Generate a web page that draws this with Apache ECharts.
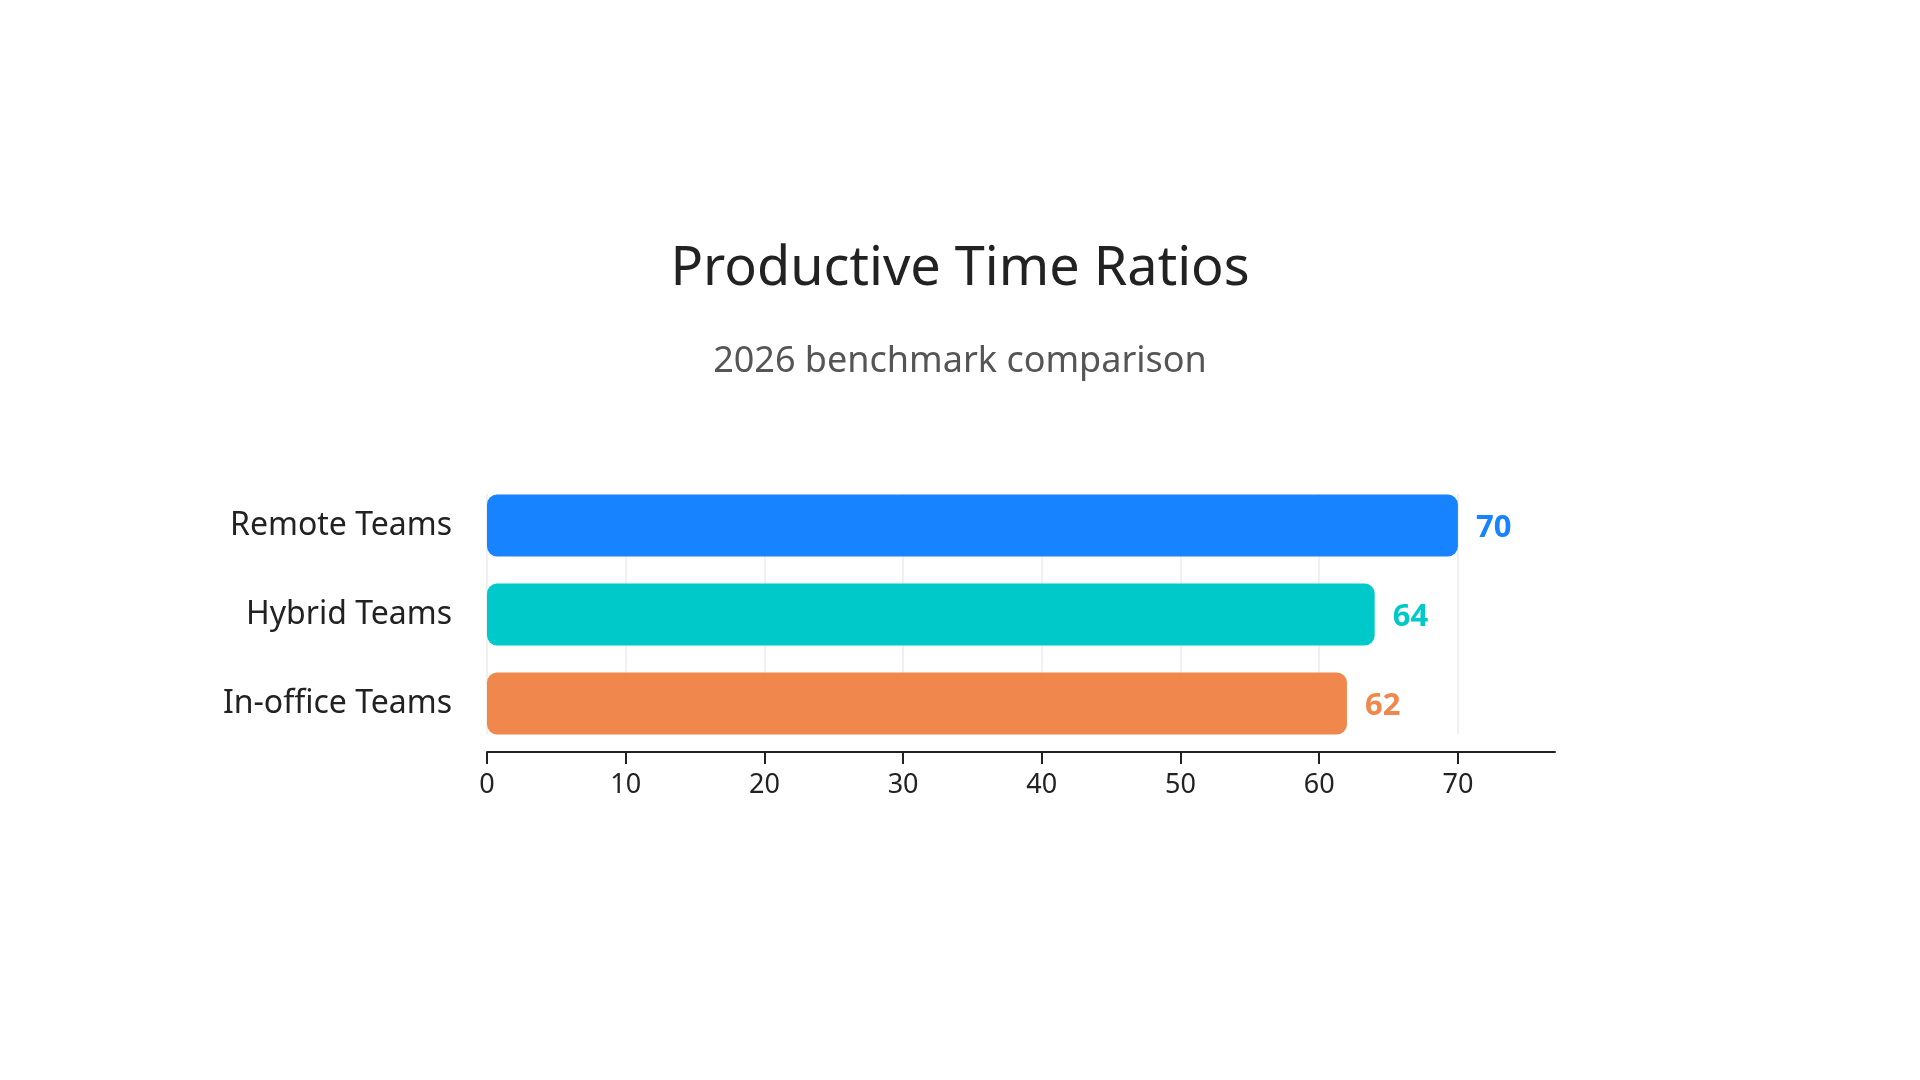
<!DOCTYPE html>
<html>
<head>
<meta charset="utf-8">
<script src="https://cdn.jsdelivr.net/npm/echarts@6/dist/echarts.min.js"></script>
<style>
  html, body { margin: 0; padding: 0; background: #fff; }
  #main { width: 1920px; height: 1080px; }
</style>
</head>
<body>
<div id="main"></div>
<script>
var categories = ['Remote Teams', 'Hybrid Teams', 'In-office Teams'];
var values = [70, 64, 62];
var barColors = ['#1783FF', '#00C9C9', '#F0884D'];
var tickValues = [0, 10, 20, 30, 40, 50, 60, 70];

var chart = echarts.init(document.getElementById('main'));

var axisMax = 77;
var font = 'Noto Sans';

var option = {
  backgroundColor: '#ffffff',
  title: [{
    text: 'Productive Time Ratios',
    left: 'center',
    top: 238,
    textStyle: { fontFamily: font, fontSize: 54, fontWeight: 'normal', color: '#222222' }
  }, {
    text: '2026 benchmark comparison',
    left: 'center',
    top: 339,
    textStyle: { fontFamily: font, fontSize: 36, fontWeight: 'normal', color: '#555555' }
  }],
  grid: [
    { left: 487, right: 365, top: 481, bottom: 332 },
    { left: 487, right: 462.1, top: 494, bottom: 346 }
  ],
  xAxis: [{
    type: 'value',
    gridIndex: 0,
    min: 0,
    max: axisMax,
    interval: 10,
    offset: 4,
    splitLine: { show: false },
    axisLine: { show: true, lineStyle: { color: '#222222', width: 2 } },
    axisTick: { show: true, length: 12, customValues: tickValues, lineStyle: { color: '#222222', width: 2 } },
    axisLabel: { customValues: tickValues, margin: 20, fontFamily: font, fontSize: 27, color: '#222222' }
  }, {
    type: 'value',
    gridIndex: 1,
    min: 0,
    max: 70,
    interval: 10,
    axisLine: { show: false },
    axisTick: { show: false },
    axisLabel: { show: false },
    splitLine: { show: true, lineStyle: { color: '#ebebeb', width: 1.5 } }
  }],
  yAxis: [{
    type: 'category',
    gridIndex: 0,
    data: categories,
    inverse: true,
    axisLine: { show: false },
    axisTick: { show: false },
    axisLabel: { margin: 35, fontFamily: font, fontSize: 32, color: '#222222' }
  }, {
    type: 'value',
    gridIndex: 1,
    show: false
  }],
  series: [{
    type: 'bar',
    xAxisIndex: 0,
    yAxisIndex: 0,
    barWidth: 62,
    data: values.map(function (v, i) {
      return {
        value: v,
        itemStyle: { color: barColors[i], borderRadius: 10 },
        label: { color: barColors[i] }
      };
    }),
    label: {
      show: true,
      position: 'right',
      distance: 18,
      offset: [0, 3],
      fontFamily: font,
      fontSize: 31,
      fontWeight: 'bold'
    }
  }]
};

chart.setOption(option);
</script>
</body>
</html>
